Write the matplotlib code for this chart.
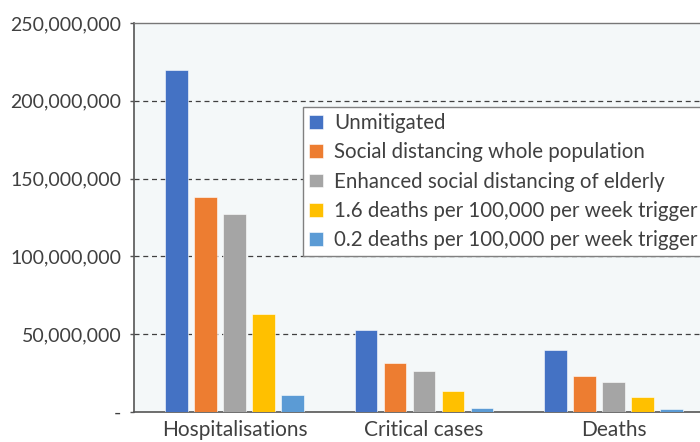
import numpy as np
import matplotlib
matplotlib.use('Agg')
from matplotlib import pyplot as plt
from matplotlib.ticker import FuncFormatter

#%% data
categories = ['Hospitalisations', 'Critical cases', 'Deaths']
scenarios = ['Unmitigated',
             'Social distancing whole population',
             'Enhanced social distancing of elderly',
             '1.6 deaths per 100,000 per week trigger',
             '0.2 deaths per 100,000 per week trigger']
unmitigated = [220e6, 52.7e6, 39.8e6]
social_dist = [138e6, 31.5e6, 23.1e6]
elderly = [127e6, 26.3e6, 19.3e6]
trigger_16 = [63e6, 13.5e6, 9.6e6]
trigger_02 = [11e6, 2.6e6, 2.0e6]
colours = ['#4472C4', '#ED7D31', '#A5A5A5', '#FFC000', '#5B9BD5']

#%% plot
plt.rcParams['font.family'] = ['Lato', 'DejaVu Sans']
txt = '#404040'
fig = plt.figure(figsize=(7, 4.42), dpi=100)
ax = fig.add_axes([134/700, 1-412/442, 566/700, 389/442])
ax.set_facecolor('#F4F8F9')

x = np.arange(len(categories))
w = 0.121
step = 0.153
series = [unmitigated, social_dist, elderly, trigger_16, trigger_02]
for i, (vals, lab, c) in enumerate(zip(series, scenarios, colours)):
    ax.bar(x + (i-2)*step, vals, width=w, color=c, label=lab,
           edgecolor='#FFFFFF', linewidth=0.4, zorder=3)

ax.set_xlim(-0.53, 2.456)
ax.set_ylim(0, 250e6)
ax.set_yticks(np.arange(0, 250e6+1, 50e6))
ax.yaxis.set_major_formatter(FuncFormatter(lambda v, p: '-' if v == 0 else f'{v:,.0f}'))
ax.set_xticks(x)
ax.set_xticklabels(categories)
ax.tick_params(axis='y', labelsize=14, colors=txt, length=3, width=1, pad=6, color='#555555')
ax.tick_params(axis='x', labelsize=15, colors=txt, length=0, pad=6)
for yv in np.arange(50e6, 250e6, 50e6):
    ax.axhline(yv, color='#404040', ls=(0, (4, 3)), lw=0.9, zorder=1)

for s in ['left', 'bottom']:
    ax.spines[s].set_color('#555555')
    ax.spines[s].set_linewidth(1.2)
ax.spines['top'].set_color('#777777')
ax.spines['top'].set_linewidth(1.0)
ax.spines['right'].set_visible(False)

leg = ax.legend(loc='upper left', bbox_to_anchor=(303/700, 1-107/442),
                bbox_transform=fig.transFigure, fontsize=14.8, frameon=True,
                fancybox=False, edgecolor='#808080', framealpha=1,
                handlelength=0.65, handleheight=0.65, handletextpad=0.55,
                labelspacing=0.45, borderpad=0.3, borderaxespad=0)
leg.get_frame().set_linewidth(1.0)
for t in leg.get_texts():
    t.set_color(txt)

fig.savefig('out.png', dpi=100)
